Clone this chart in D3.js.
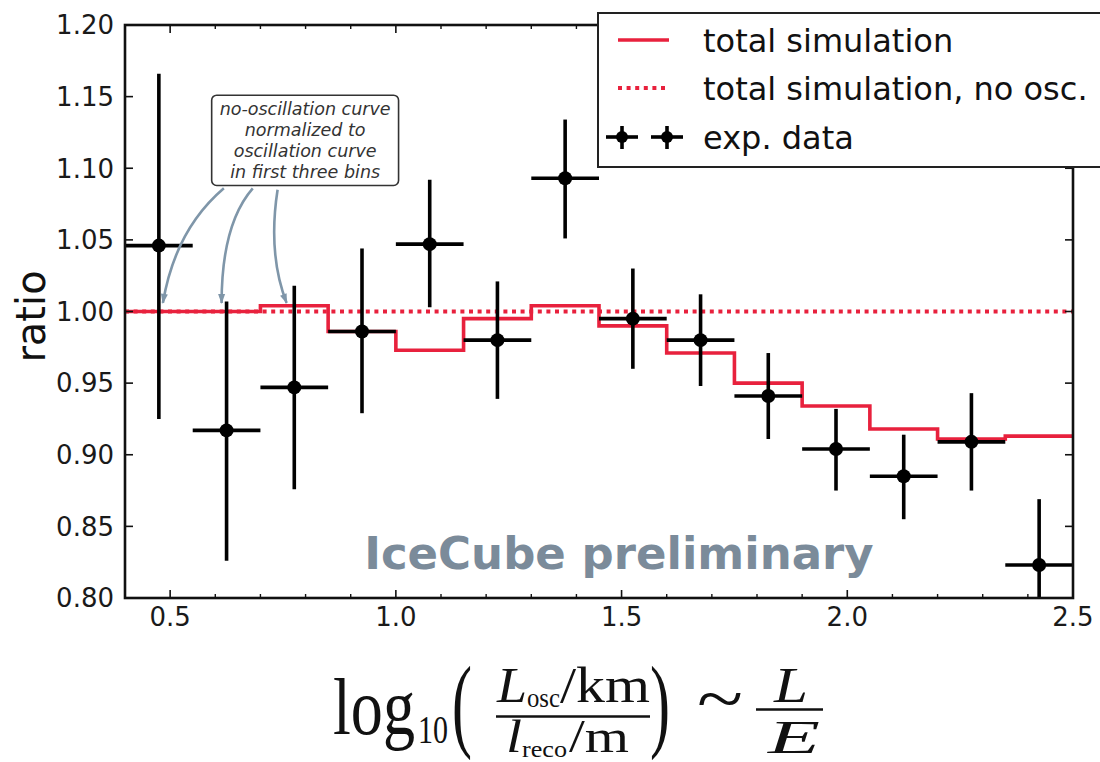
<!DOCTYPE html>
<html>
<head>
<meta charset="utf-8">
<script src="https://cdn.jsdelivr.net/npm/d3@7"></script>
<style>
  html, body { margin: 0; padding: 0; background: #fff; }
  svg { display: block; }
</style>
</head>
<body>
<svg id="chart" width="1100" height="762"></svg>
<script>
// Bin edges of log10(L_osc/km / l_reco/m)
const binEdges = [0.40, 0.55, 0.70, 0.85, 1.00, 1.15, 1.30, 1.45, 1.60, 1.75, 1.90, 2.05, 2.20, 2.35, 2.50];
// Simulation ratio per bin
const simTotal = [1.000, 1.000, 1.004, 0.986, 0.973, 0.995, 1.004, 0.990, 0.971, 0.950, 0.934, 0.918, 0.911, 0.913];
const simNoOsc = [1.000, 1.000, 1.000, 1.000, 1.000, 1.000, 1.000, 1.000, 1.000, 1.000, 1.000, 1.000, 1.000, 1.000];
// Experimental data ratio with lower / upper error limits
const dataRatio = [1.046, 0.917, 0.947, 0.986, 1.047, 0.980, 1.093, 0.995, 0.980, 0.941, 0.904, 0.885, 0.909, 0.823];
const dataLow   = [0.925, 0.826, 0.876, 0.929, 1.003, 0.939, 1.051, 0.960, 0.948, 0.911, 0.875, 0.855, 0.875, 0.775];
const dataHigh  = [1.166, 1.007, 1.018, 1.044, 1.092, 1.021, 1.134, 1.030, 1.012, 0.971, 0.932, 0.914, 0.943, 0.869];
// Axis ticks
const yTicks = [0.80, 0.85, 0.90, 0.95, 1.00, 1.05, 1.10, 1.15, 1.20];
const xMajorTicks = [0.5, 1.0, 1.5, 2.0, 2.5];
const xMinorTicks = [0.4, 0.6, 0.7, 0.8, 0.9, 1.1, 1.2, 1.3, 1.4, 1.6, 1.7, 1.8, 1.9, 2.1, 2.2, 2.3, 2.4];
// Legend entries
const legendLabels = ["total simulation", "total simulation, no osc.", "exp. data"];
// Annotation: text lines, arrow tips / starts / control points in data units
const noteLines = ["no-oscillation curve", "normalized to", "oscillation curve", "in first three bins"];
const noteBox = { x0: 0.592, x1: 1.006, y0: 1.151, y1: 1.088 };
const arrowStart = [[0.619, 1.086], [0.683, 1.086], [0.738, 1.085]];
const arrowCtrl  = [[0.511, 1.057], [0.614, 1.061], [0.716, 1.040]];
const arrowTip   = [[0.484, 1.006], [0.614, 1.006], [0.758, 1.006]];

const RED = "#e8213d";
const svg = d3.select("#chart");
const W = 1100, H = 762;
const margin = { left: 125, right: 27, top: 25, bottom: 164 };
const x = d3.scaleLinear().domain([0.4, 2.5]).range([margin.left, W - margin.right]);
const y = d3.scaleLinear().domain([0.8, 1.2]).range([H - margin.bottom, margin.top]);
const [px0, px1] = x.range();
const [py0, py1] = [y.range()[1], y.range()[0]];

const defs = svg.append("defs");
defs.append("clipPath").attr("id", "plotClip")
  .append("rect").attr("x", px0).attr("y", py0).attr("width", px1 - px0).attr("height", py1 - py0);
defs.append("marker").attr("id", "arrowHead")
  .attr("viewBox", "0 -4 10 8").attr("refX", 9).attr("refY", 0)
  .attr("markerWidth", 11).attr("markerHeight", 8).attr("markerUnits", "userSpaceOnUse")
  .attr("orient", "auto")
  .append("path").attr("d", "M0,-3.5L10,0L0,3.5Z").attr("fill", "#7f96a9");

// Watermark
svg.append("text")
  .attr("x", x(1.494)).attr("y", y(0.8205))
  .attr("text-anchor", "middle")
  .style("font-family", "DejaVu Sans").style("font-weight", "bold")
  .style("font-size", "45px").attr("fill", "#7b8b9a")
  .text("IceCube preliminary");

const plot = svg.append("g").attr("clip-path", "url(#plotClip)");

// Step curves
const stepLine = d3.line().x(d => x(d[0])).y(d => y(d[1])).curve(d3.curveStepAfter);
const stepPts = vals => vals.map((v, i) => [binEdges[i], v]).concat([[binEdges[vals.length], vals[vals.length - 1]]]);

plot.append("path").datum(stepPts(simNoOsc))
  .attr("d", stepLine).attr("fill", "none").attr("stroke", RED)
  .attr("stroke-width", 4).attr("stroke-dasharray", "4,4.6");

plot.append("path").datum(stepPts(simTotal))
  .attr("d", stepLine).attr("fill", "none").attr("stroke", RED)
  .attr("stroke-width", 3.6).attr("stroke-linejoin", "miter");

// Data points with error bars
const pts = dataRatio.map((v, i) => ({
  lo: binEdges[i], hi: binEdges[i + 1], c: (binEdges[i] + binEdges[i + 1]) / 2,
  v, eLo: dataLow[i], eHi: dataHigh[i]
}));
const pg = plot.append("g").selectAll("g").data(pts).join("g");
pg.append("line").attr("x1", d => x(d.lo)).attr("x2", d => x(d.hi))
  .attr("y1", d => y(d.v)).attr("y2", d => y(d.v))
  .attr("stroke", "#000").attr("stroke-width", 3.6);
pg.append("line").attr("x1", d => x(d.c)).attr("x2", d => x(d.c))
  .attr("y1", d => y(d.eLo)).attr("y2", d => y(d.eHi))
  .attr("stroke", "#000").attr("stroke-width", 3.6);
pg.append("circle").attr("cx", d => x(d.c)).attr("cy", d => y(d.v)).attr("r", 7).attr("fill", "#000");

// Frame and ticks
const frame = svg.append("g");
frame.append("rect").attr("x", px0).attr("y", py0).attr("width", px1 - px0).attr("height", py1 - py0)
  .attr("fill", "none").attr("stroke", "#111").attr("stroke-width", 2.6);

yTicks.forEach(t => {
  frame.append("line").attr("x1", px0).attr("x2", px0 + 8).attr("y1", y(t)).attr("y2", y(t)).attr("stroke", "#111").attr("stroke-width", 1.6);
  frame.append("line").attr("x1", px1).attr("x2", px1 - 8).attr("y1", y(t)).attr("y2", y(t)).attr("stroke", "#111").attr("stroke-width", 1.6);
  frame.append("text").attr("x", px0 - 11).attr("y", y(t)).attr("dy", "0.36em")
    .attr("text-anchor", "end").style("font-family", "DejaVu Sans").style("font-size", "26px").attr("fill", "#1a1a1a")
    .text(t.toFixed(2));
});
xMajorTicks.forEach(t => {
  frame.append("line").attr("x1", x(t)).attr("x2", x(t)).attr("y1", py1).attr("y2", py1 - 8).attr("stroke", "#111").attr("stroke-width", 1.6);
  frame.append("line").attr("x1", x(t)).attr("x2", x(t)).attr("y1", py0).attr("y2", py0 + 8).attr("stroke", "#111").attr("stroke-width", 1.6);
  frame.append("text").attr("x", x(t)).attr("y", py1 + 28)
    .attr("text-anchor", "middle").style("font-family", "DejaVu Sans").style("font-size", "26px").attr("fill", "#1a1a1a")
    .text(t.toFixed(1));
});
xMinorTicks.forEach(t => {
  frame.append("line").attr("x1", x(t)).attr("x2", x(t)).attr("y1", py1).attr("y2", py1 - 4).attr("stroke", "#111").attr("stroke-width", 1.4);
  frame.append("line").attr("x1", x(t)).attr("x2", x(t)).attr("y1", py0).attr("y2", py0 + 4).attr("stroke", "#111").attr("stroke-width", 1.4);
});

// Y axis title
svg.append("text").attr("transform", `translate(45,${(py0 + py1) / 2 + 5}) rotate(-90)`)
  .attr("text-anchor", "middle").style("font-family", "DejaVu Sans").style("font-size", "40px").attr("fill", "#111")
  .text("ratio");

// Annotation box with curved arrows
const note = svg.append("g");
arrowStart.forEach((s, i) => {
  const p = d3.path();
  p.moveTo(x(s[0]), y(s[1]));
  p.quadraticCurveTo(x(arrowCtrl[i][0]), y(arrowCtrl[i][1]), x(arrowTip[i][0]), y(arrowTip[i][1]));
  note.append("path").attr("d", p.toString()).attr("fill", "none")
    .attr("stroke", "#7f96a9").attr("stroke-width", 2.6).attr("marker-end", "url(#arrowHead)");
});
note.append("rect").attr("x", x(noteBox.x0)).attr("y", y(noteBox.y0))
  .attr("width", x(noteBox.x1) - x(noteBox.x0)).attr("height", y(noteBox.y1) - y(noteBox.y0))
  .attr("rx", 5).attr("fill", "#fff").attr("stroke", "#333").attr("stroke-width", 1.6);
noteLines.forEach((s, i) => {
  note.append("text").attr("x", (x(noteBox.x0) + x(noteBox.x1)) / 2).attr("y", y(noteBox.y0) + 20 + i * 21)
    .attr("text-anchor", "middle").style("font-family", "DejaVu Sans").style("font-style", "italic")
    .style("font-size", "17.5px").attr("fill", "#333").text(s);
});

// Legend
const leg = svg.append("g");
leg.append("rect").attr("x", 598).attr("y", 13).attr("width", 510).attr("height", 154)
  .attr("fill", "#fff").attr("stroke", "#222").attr("stroke-width", 2);
const rowY = [40, 88, 137];
leg.append("line").attr("x1", 618).attr("x2", 669).attr("y1", rowY[0]).attr("y2", rowY[0])
  .attr("stroke", RED).attr("stroke-width", 3.6);
leg.append("line").attr("x1", 618).attr("x2", 669).attr("y1", rowY[1]).attr("y2", rowY[1])
  .attr("stroke", RED).attr("stroke-width", 4).attr("stroke-dasharray", "4,4.6");
[622, 667].forEach(cx => {
  leg.append("line").attr("x1", cx - 16).attr("x2", cx + 16).attr("y1", rowY[2]).attr("y2", rowY[2]).attr("stroke", "#000").attr("stroke-width", 3.6);
  leg.append("line").attr("x1", cx).attr("x2", cx).attr("y1", rowY[2] - 11).attr("y2", rowY[2] + 12).attr("stroke", "#000").attr("stroke-width", 3.6);
  leg.append("circle").attr("cx", cx).attr("cy", rowY[2]).attr("r", 6).attr("fill", "#000");
});
legendLabels.forEach((s, i) => {
  leg.append("text").attr("x", 703).attr("y", rowY[i] + 12)
    .style("font-family", "DejaVu Sans").style("font-size", "32px").attr("fill", "#111").text(s);
});

// X axis title: log10( L_osc/km / l_reco/m ) ~ L/E
// Each piece is set at a font size for its height and squeezed horizontally to its width.
const lab = svg.append("g").style("font-family", "'Liberation Serif', 'DejaVu Serif', serif").attr("fill", "#111");
function piece(str, px, py, size, len, italic) {
  const t = lab.append("text").style("font-size", size + "px")
    .style("font-style", italic ? "italic" : "normal").text(str);
  const w = t.node().getComputedTextLength() || len;
  t.attr("transform", `translate(${px},${py}) scale(${len / w},1)`);
}
function bar(xa, xb, yy) {
  lab.append("line").attr("x1", xa).attr("x2", xb).attr("y1", yy).attr("y2", yy).attr("stroke", "#111").attr("stroke-width", 2.4);
}
piece("log", 333, 734, 80, 82, false);
piece("10", 418, 743, 40, 30, false);
piece("(", 452, 738, 104, 20, false);
piece("L", 497, 702, 50, 30, true);
piece("osc", 527, 707, 27, 33, false);
piece("/km", 560, 702, 50, 90, false);
bar(496, 650, 716.5);
piece("l", 506, 752, 46, 16, true);
piece("reco", 522, 757, 24, 45, false);
piece("/m", 569, 752, 46, 60, false);
piece(")", 650, 738, 104, 20, false);
piece("~", 697, 722, 70, 46, false);
piece("L", 774, 702, 50, 34, true);
bar(756, 823, 709.5);
piece("E", 768, 753, 46, 52, true);
</script>
</body>
</html>
